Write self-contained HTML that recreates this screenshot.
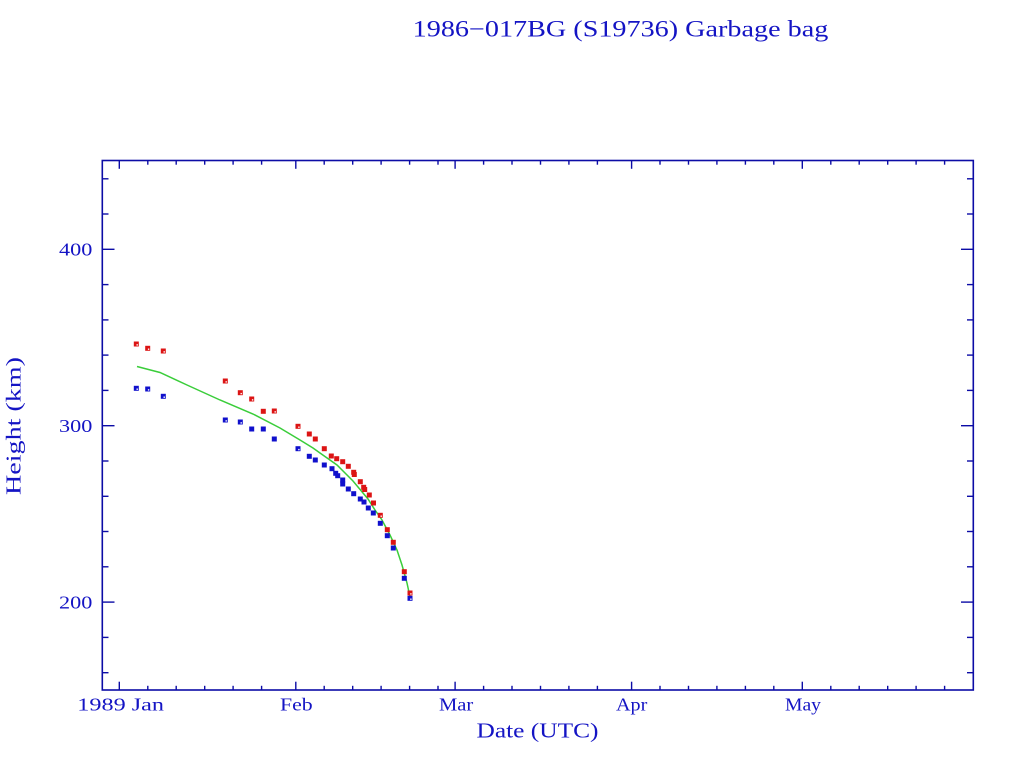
<!DOCTYPE html>
<html>
<head>
<meta charset="utf-8">
<style>
html,body{margin:0;padding:0;background:#fff;}
svg{display:block;}
text{font-family:"Liberation Serif","DejaVu Serif",serif;fill:#1414c4;}
</style>
</head>
<body>
<svg width="1024" height="768" viewBox="0 0 1024 768" xmlns="http://www.w3.org/2000/svg">
<rect x="0" y="0" width="1024" height="768" fill="#fff"/>

<!-- Title -->
<text x="412.7" y="36.7" font-size="23" textLength="415.6" lengthAdjust="spacingAndGlyphs">1986−017BG (S19736) Garbage bag</text>

<!-- Frame -->
<rect x="102.3" y="160.5" width="871" height="529.5" fill="none" stroke="#0c0ca6" stroke-width="1.6"/>

<!-- Y ticks -->
<g stroke="#0c0ca6" stroke-width="1.4">
<!-- left -->
<line x1="102" y1="178.8" x2="108.5" y2="178.8"/>
<line x1="102" y1="214.0" x2="108.5" y2="214.0"/>
<line x1="102" y1="249.3" x2="114.5" y2="249.3"/>
<line x1="102" y1="284.6" x2="108.5" y2="284.6"/>
<line x1="102" y1="319.9" x2="108.5" y2="319.9"/>
<line x1="102" y1="355.1" x2="108.5" y2="355.1"/>
<line x1="102" y1="390.4" x2="108.5" y2="390.4"/>
<line x1="102" y1="425.7" x2="114.5" y2="425.7"/>
<line x1="102" y1="461.0" x2="108.5" y2="461.0"/>
<line x1="102" y1="496.3" x2="108.5" y2="496.3"/>
<line x1="102" y1="531.5" x2="108.5" y2="531.5"/>
<line x1="102" y1="566.8" x2="108.5" y2="566.8"/>
<line x1="102" y1="602.1" x2="114.5" y2="602.1"/>
<line x1="102" y1="637.4" x2="108.5" y2="637.4"/>
<line x1="102" y1="672.7" x2="108.5" y2="672.7"/>
<!-- right -->
<line x1="973.5" y1="178.8" x2="967" y2="178.8"/>
<line x1="973.5" y1="214.0" x2="967" y2="214.0"/>
<line x1="973.5" y1="249.3" x2="961" y2="249.3"/>
<line x1="973.5" y1="284.6" x2="967" y2="284.6"/>
<line x1="973.5" y1="319.9" x2="967" y2="319.9"/>
<line x1="973.5" y1="355.1" x2="967" y2="355.1"/>
<line x1="973.5" y1="390.4" x2="967" y2="390.4"/>
<line x1="973.5" y1="425.7" x2="961" y2="425.7"/>
<line x1="973.5" y1="461.0" x2="967" y2="461.0"/>
<line x1="973.5" y1="496.3" x2="967" y2="496.3"/>
<line x1="973.5" y1="531.5" x2="967" y2="531.5"/>
<line x1="973.5" y1="566.8" x2="967" y2="566.8"/>
<line x1="973.5" y1="602.1" x2="961" y2="602.1"/>
<line x1="973.5" y1="637.4" x2="967" y2="637.4"/>
<line x1="973.5" y1="672.7" x2="967" y2="672.7"/>
</g>

<!-- X ticks -->
<g stroke="#0c0ca6" stroke-width="1.4">
<!-- major bottom -->
<line x1="119.3" y1="690" x2="119.3" y2="681.7"/>
<line x1="295.8" y1="690" x2="295.8" y2="681.7"/>
<line x1="455.1" y1="690" x2="455.1" y2="681.7"/>
<line x1="631.6" y1="690" x2="631.6" y2="681.7"/>
<line x1="802.3" y1="690" x2="802.3" y2="681.7"/>
<!-- major top -->
<line x1="119.3" y1="160.5" x2="119.3" y2="168.8"/>
<line x1="295.8" y1="160.5" x2="295.8" y2="168.8"/>
<line x1="455.1" y1="160.5" x2="455.1" y2="168.8"/>
<line x1="631.6" y1="160.5" x2="631.6" y2="168.8"/>
<line x1="802.3" y1="160.5" x2="802.3" y2="168.8"/>
</g>
<g stroke="#0c0ca6" stroke-width="1.4">
<!-- minor bottom: days 5,10,15,20,25, 36..56, 64..84, 95..115, 125..145 -->
<line x1="147.8" y1="690" x2="147.8" y2="685.8"/>
<line x1="176.2" y1="690" x2="176.2" y2="685.8"/>
<line x1="204.7" y1="690" x2="204.7" y2="685.8"/>
<line x1="233.1" y1="690" x2="233.1" y2="685.8"/>
<line x1="261.6" y1="690" x2="261.6" y2="685.8"/>
<line x1="324.2" y1="690" x2="324.2" y2="685.8"/>
<line x1="352.7" y1="690" x2="352.7" y2="685.8"/>
<line x1="381.1" y1="690" x2="381.1" y2="685.8"/>
<line x1="409.6" y1="690" x2="409.6" y2="685.8"/>
<line x1="438.0" y1="690" x2="438.0" y2="685.8"/>
<line x1="483.6" y1="690" x2="483.6" y2="685.8"/>
<line x1="512.0" y1="690" x2="512.0" y2="685.8"/>
<line x1="540.5" y1="690" x2="540.5" y2="685.8"/>
<line x1="568.9" y1="690" x2="568.9" y2="685.8"/>
<line x1="597.4" y1="690" x2="597.4" y2="685.8"/>
<line x1="660.0" y1="690" x2="660.0" y2="685.8"/>
<line x1="688.5" y1="690" x2="688.5" y2="685.8"/>
<line x1="716.9" y1="690" x2="716.9" y2="685.8"/>
<line x1="745.4" y1="690" x2="745.4" y2="685.8"/>
<line x1="773.8" y1="690" x2="773.8" y2="685.8"/>
<line x1="830.8" y1="690" x2="830.8" y2="685.8"/>
<line x1="859.2" y1="690" x2="859.2" y2="685.8"/>
<line x1="887.7" y1="690" x2="887.7" y2="685.8"/>
<line x1="916.1" y1="690" x2="916.1" y2="685.8"/>
<line x1="944.6" y1="690" x2="944.6" y2="685.8"/>
<!-- minor top -->
<line x1="147.8" y1="160.5" x2="147.8" y2="164.7"/>
<line x1="176.2" y1="160.5" x2="176.2" y2="164.7"/>
<line x1="204.7" y1="160.5" x2="204.7" y2="164.7"/>
<line x1="233.1" y1="160.5" x2="233.1" y2="164.7"/>
<line x1="261.6" y1="160.5" x2="261.6" y2="164.7"/>
<line x1="324.2" y1="160.5" x2="324.2" y2="164.7"/>
<line x1="352.7" y1="160.5" x2="352.7" y2="164.7"/>
<line x1="381.1" y1="160.5" x2="381.1" y2="164.7"/>
<line x1="409.6" y1="160.5" x2="409.6" y2="164.7"/>
<line x1="438.0" y1="160.5" x2="438.0" y2="164.7"/>
<line x1="483.6" y1="160.5" x2="483.6" y2="164.7"/>
<line x1="512.0" y1="160.5" x2="512.0" y2="164.7"/>
<line x1="540.5" y1="160.5" x2="540.5" y2="164.7"/>
<line x1="568.9" y1="160.5" x2="568.9" y2="164.7"/>
<line x1="597.4" y1="160.5" x2="597.4" y2="164.7"/>
<line x1="660.0" y1="160.5" x2="660.0" y2="164.7"/>
<line x1="688.5" y1="160.5" x2="688.5" y2="164.7"/>
<line x1="716.9" y1="160.5" x2="716.9" y2="164.7"/>
<line x1="745.4" y1="160.5" x2="745.4" y2="164.7"/>
<line x1="773.8" y1="160.5" x2="773.8" y2="164.7"/>
<line x1="830.8" y1="160.5" x2="830.8" y2="164.7"/>
<line x1="859.2" y1="160.5" x2="859.2" y2="164.7"/>
<line x1="887.7" y1="160.5" x2="887.7" y2="164.7"/>
<line x1="916.1" y1="160.5" x2="916.1" y2="164.7"/>
<line x1="944.6" y1="160.5" x2="944.6" y2="164.7"/>
</g>

<!-- Y tick labels -->
<text x="59" y="255.7" font-size="18" textLength="33.3" lengthAdjust="spacingAndGlyphs">400</text>
<text x="59" y="432.1" font-size="18" textLength="33.3" lengthAdjust="spacingAndGlyphs">300</text>
<text x="59" y="608.5" font-size="18" textLength="33.3" lengthAdjust="spacingAndGlyphs">200</text>

<!-- X tick labels -->
<text x="77.3" y="710.5" font-size="18" textLength="86.7" lengthAdjust="spacingAndGlyphs">1989 Jan</text>
<text x="280" y="710.5" font-size="18" textLength="32.7" lengthAdjust="spacingAndGlyphs">Feb</text>
<text x="439" y="710.5" font-size="18" textLength="34.3" lengthAdjust="spacingAndGlyphs">Mar</text>
<text x="616" y="710.5" font-size="18" textLength="31.3" lengthAdjust="spacingAndGlyphs">Apr</text>
<text x="785" y="710.5" font-size="18" textLength="36" lengthAdjust="spacingAndGlyphs">May</text>

<!-- Axis titles -->
<text x="476.5" y="737.5" font-size="21" textLength="122" lengthAdjust="spacingAndGlyphs">Date (UTC)</text>
<text transform="translate(20.5,495) rotate(-90)" x="0" y="0" font-size="21" textLength="138" lengthAdjust="spacingAndGlyphs">Height (km)</text>

<!-- Green fit line -->
<polyline fill="none" stroke="#3acd3a" stroke-width="1.5" points="137,366.5 160,372.5 187,385 220,400 253,414 280,428 300,440 313,448 320,453 337,465 353,481 368,499 375,510 382,520 390,535 397,550 402,565 407,583 410,597"/>

<!-- Red points -->
<g fill="#dc1414">
<rect x="133.8" y="341.5" width="5" height="5"/>
<rect x="145.2" y="345.8" width="5" height="5"/>
<rect x="160.8" y="348.5" width="5" height="5"/>
<rect x="222.8" y="378.5" width="5" height="5"/>
<rect x="237.8" y="390.2" width="5" height="5"/>
<rect x="249.2" y="396.5" width="5" height="5"/>
<rect x="260.8" y="408.8" width="5" height="5"/>
<rect x="271.8" y="408.5" width="5" height="5"/>
<rect x="295.5" y="423.8" width="5" height="5"/>
<rect x="306.8" y="431.5" width="5" height="5"/>
<rect x="312.8" y="436.5" width="5" height="5"/>
<rect x="321.8" y="446.2" width="5" height="5"/>
<rect x="328.8" y="453.5" width="5" height="5"/>
<rect x="334.2" y="456.2" width="5" height="5"/>
<rect x="340.2" y="459.2" width="5" height="5"/>
<rect x="345.8" y="463.8" width="5" height="5"/>
<rect x="351.2" y="469.8" width="5" height="5"/>
<rect x="351.8" y="472.0" width="5" height="5"/>
<rect x="357.8" y="479.2" width="5" height="5"/>
<rect x="361.2" y="484.8" width="5" height="5"/>
<rect x="362.2" y="487.0" width="5" height="5"/>
<rect x="366.8" y="492.5" width="5" height="5"/>
<rect x="371.0" y="500.5" width="5" height="5"/>
<rect x="377.8" y="512.8" width="5" height="5"/>
<rect x="384.8" y="527.2" width="5" height="5"/>
<rect x="390.8" y="539.8" width="5" height="5"/>
<rect x="401.8" y="569.2" width="5" height="5"/>
<rect x="407.5" y="590.5" width="5" height="5"/>
</g>

<!-- Blue points -->
<g fill="#1010cc">
<rect x="133.8" y="385.8" width="5" height="5"/>
<rect x="145.2" y="386.5" width="5" height="5"/>
<rect x="160.8" y="393.8" width="5" height="5"/>
<rect x="222.8" y="417.5" width="5" height="5"/>
<rect x="237.8" y="419.5" width="5" height="5"/>
<rect x="249.2" y="426.5" width="5" height="5"/>
<rect x="260.8" y="426.5" width="5" height="5"/>
<rect x="271.8" y="436.5" width="5" height="5"/>
<rect x="295.5" y="446.2" width="5" height="5"/>
<rect x="306.8" y="453.8" width="5" height="5"/>
<rect x="312.8" y="457.5" width="5" height="5"/>
<rect x="321.8" y="462.5" width="5" height="5"/>
<rect x="329.5" y="466.2" width="5" height="5"/>
<rect x="333.2" y="470.8" width="5" height="5"/>
<rect x="335.2" y="473.2" width="5" height="5"/>
<rect x="340.2" y="477.5" width="5" height="5"/>
<rect x="340.2" y="481.5" width="5" height="5"/>
<rect x="345.8" y="486.5" width="5" height="5"/>
<rect x="351.2" y="491.2" width="5" height="5"/>
<rect x="357.8" y="496.5" width="5" height="5"/>
<rect x="361.5" y="499.5" width="5" height="5"/>
<rect x="365.8" y="505.5" width="5" height="5"/>
<rect x="370.8" y="510.5" width="5" height="5"/>
<rect x="377.8" y="520.8" width="5" height="5"/>
<rect x="384.8" y="533.2" width="5" height="5"/>
<rect x="390.8" y="545.5" width="5" height="5"/>
<rect x="401.8" y="575.8" width="5" height="5"/>
<rect x="407.5" y="595.8" width="5" height="5"/>
</g>

<!-- marker inner white dots -->
<g fill="#ffffff">
<rect x="136.5" y="344.2" width="1.4" height="1.4"/>
<rect x="147.9" y="348.5" width="1.4" height="1.4"/>
<rect x="163.5" y="351.2" width="1.4" height="1.4"/>
<rect x="225.5" y="381.2" width="1.4" height="1.4"/>
<rect x="240.5" y="392.9" width="1.4" height="1.4"/>
<rect x="251.9" y="399.2" width="1.4" height="1.4"/>
<rect x="274.5" y="411.2" width="1.4" height="1.4"/>
<rect x="298.2" y="426.5" width="1.4" height="1.4"/>
<rect x="380.5" y="515.5" width="1.4" height="1.4"/>
<rect x="410.2" y="593.2" width="1.4" height="1.4"/>
<rect x="136.5" y="388.5" width="1.4" height="1.4"/>
<rect x="147.9" y="389.2" width="1.4" height="1.4"/>
<rect x="163.5" y="396.5" width="1.4" height="1.4"/>
<rect x="225.5" y="420.2" width="1.4" height="1.4"/>
<rect x="240.5" y="422.2" width="1.4" height="1.4"/>
<rect x="298.2" y="448.9" width="1.4" height="1.4"/>
<rect x="410.2" y="598.5" width="1.4" height="1.4"/>
</g>
</svg>
</body>
</html>
